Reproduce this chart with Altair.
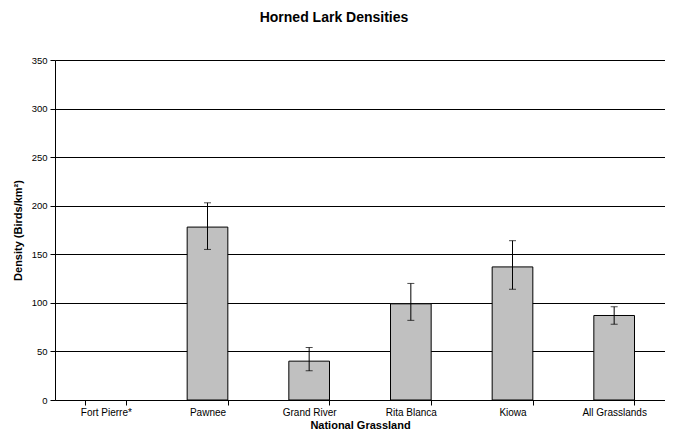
import altair as alt
import pandas as pd

categories = ["Fort Pierre*", "Pawnee", "Grand River", "Rita Blanca", "Kiowa", "All Grasslands"]
density = [None, 178, 40, 99, 137, 87]
lower = [None, 155, 30, 82, 114, 78]
upper = [None, 203, 54, 120, 164, 96]

df = pd.DataFrame({"site": categories, "density": density, "lower": lower, "upper": upper})

FONT = "Liberation Sans"

x = alt.X("site:N", sort=categories, title="National Grassland",
          scale=alt.Scale(paddingInner=0.6, paddingOuter=0.3),
          axis=alt.Axis(labelAngle=0, tickBand="extent", labelFontSize=10, titleFontSize=11,
                        titleFontWeight="bold", labelFont=FONT, titleFont=FONT, labelColor="#000",
                        titleColor="#000", domainColor="#000", tickColor="#000", tickSize=5,
                        labelPadding=2, titlePadding=2, grid=False))

bars = alt.Chart(df).mark_bar(color="#C0C0C0", stroke="#000", strokeWidth=1).encode(
    x=x,
    y=alt.Y("density:Q", title="Density (Birds/km²)",
            scale=alt.Scale(domain=[0, 350], nice=False),
            axis=alt.Axis(values=list(range(0, 351, 50)), labelFontSize=9.5, titleFontSize=11,
                          titleFontWeight="bold", labelFont=FONT, titleFont=FONT, labelColor="#000",
                          titleColor="#000", domainColor="#000", tickColor="#000", tickSize=5,
                          gridColor="#000", gridWidth=1, labelPadding=3, titlePadding=8)),
)

rule = alt.Chart(df).mark_rule(color="#000", strokeWidth=1).encode(
    x=alt.X("site:N", sort=categories), y="lower:Q", y2="upper:Q")
cap_lo = alt.Chart(df).mark_tick(color="#000", size=7, thickness=1, orient="horizontal").encode(
    x=alt.X("site:N", sort=categories), y="lower:Q")
cap_hi = alt.Chart(df).mark_tick(color="#000", size=7, thickness=1, orient="horizontal").encode(
    x=alt.X("site:N", sort=categories), y="upper:Q")

chart = alt.layer(bars, rule, cap_lo, cap_hi).properties(
    width=610, height=340,
    title=alt.TitleParams("Horned Lark Densities", fontSize=14, font=FONT, fontWeight="bold",
                          color="#000", anchor="middle", offset=30, dx=-26),
    autosize=alt.AutoSizeParams(type="none"),
    padding={"left": 47, "top": 52, "right": 0, "bottom": 35},
).configure_view(stroke="#808080", strokeWidth=1).configure(background="#ffffff")

chart.save("out.html", embed_options={"renderer": "svg", "actions": False})
